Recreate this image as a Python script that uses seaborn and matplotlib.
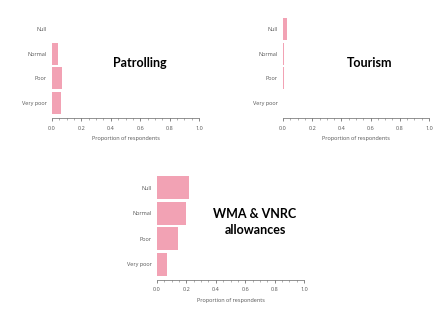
import numpy as np
import pandas as pd
import matplotlib
matplotlib.use("Agg")
import matplotlib.pyplot as plt
import seaborn as sns
from matplotlib.ticker import MultipleLocator

# categories (top to bottom) and proportions
categories = ["Null", "Normal", "Poor", "Very poor"]
patrolling = [0.0, 0.04, 0.07, 0.06]
tourism = [0.03, 0.01, 0.005, 0.0]
wma_vnrc = [0.22, 0.20, 0.14, 0.07]

titles = ["Patrolling", "Tourism", "WMA & VNRC\nallowances"]
bar_color = "#F2A2B4"

sns.set_style("white")
plt.rcParams["font.family"] = ["Open Sans", "DejaVu Sans"]

W, H = 438, 314
fig = plt.figure(figsize=(W / 100, H / 100), dpi=100)

# axes boxes in pixels: (x0, x1, ytop, ybottom)
boxes = [(52, 199, 16.6, 115.4), (283, 429, 16.6, 115.4), (157, 304, 175, 277)]
label_pos = [(140, 63), (370, 63), (255, 222)]

for vals, title, (x0, x1, yt, yb), (tx, ty) in zip(
        [patrolling, tourism, wma_vnrc], titles, boxes, label_pos):
    ax = fig.add_axes([x0 / W, 1 - yb / H, (x1 - x0) / W, (yb - yt) / H])
    df = pd.DataFrame({"cat": categories, "prop": vals})
    sns.barplot(data=df, x="prop", y="cat", orient="h", color=bar_color,
                saturation=1, width=0.9, ax=ax, edgecolor="none")
    ax.set_xlim(0, 1)
    ax.set_ylim(3.5, -0.5)
    ax.set_ylabel("")
    ax.set_xlabel("Proportion of respondents", fontsize=4, color="#555555", labelpad=4)
    ax.xaxis.set_minor_locator(MultipleLocator(0.05))
    ax.set_xticks(np.arange(0, 1.01, 0.2))
    ax.set_xticklabels([f"{v:.1f}" for v in np.arange(0, 1.01, 0.2)])
    ax.tick_params(axis="x", which="major", length=2.5, width=0.5, labelsize=4,
                   colors="#555555", pad=3, direction="out", bottom=True)
    ax.tick_params(axis="x", which="minor", length=1.2, width=0.4,
                   colors="#777777", bottom=True)
    ax.tick_params(axis="y", length=0, labelsize=4, colors="#555555", pad=4)
    for s in ["top", "right", "left"]:
        ax.spines[s].set_visible(False)
    ax.spines["bottom"].set_position(("outward", 2))
    ax.spines["bottom"].set_linewidth(0.5)
    ax.spines["bottom"].set_color("#666666")
    fig.text(tx / W, 1 - ty / H, title, ha="center", va="center",
             fontsize=9, fontweight="bold", color="black", linespacing=1.4,
             family=["Lato", "DejaVu Sans"])

fig.savefig("out.png", dpi=100)
